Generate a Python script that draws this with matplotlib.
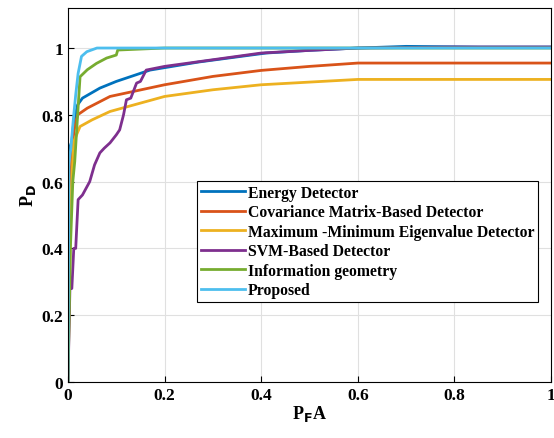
import matplotlib
matplotlib.use('Agg')
import matplotlib.pyplot as plt

# ROC curves
energy_x = [0, 0.003, 0.008, 0.012, 0.02, 0.03, 0.066, 0.1, 0.17, 0.27, 0.41, 0.5, 0.6, 0.7, 0.85, 1.0]
energy_y = [0.6, 0.7, 0.72, 0.78, 0.83, 0.85, 0.88, 0.9, 0.934, 0.958, 0.985, 0.993, 1.0, 1.005, 1.003, 1.003]

cov_x = [0, 0.005, 0.012, 0.02, 0.04, 0.087, 0.2, 0.3, 0.4, 0.5, 0.6, 0.8, 1.0]
cov_y = [0.0, 0.6, 0.75, 0.8, 0.82, 0.855, 0.89, 0.915, 0.933, 0.945, 0.955, 0.955, 0.955]

maxmin_x = [0, 0.006, 0.012, 0.025, 0.05, 0.087, 0.2, 0.3, 0.4, 0.5, 0.6, 0.8, 1.0]
maxmin_y = [0.0, 0.55, 0.72, 0.765, 0.785, 0.81, 0.855, 0.875, 0.89, 0.898, 0.906, 0.906, 0.906]

svm_x = [0, 0.004, 0.008, 0.012, 0.016, 0.021, 0.03, 0.045, 0.055, 0.066, 0.075, 0.087, 0.1, 0.107, 0.115, 0.121, 0.13, 0.142, 0.15, 0.162, 0.2, 0.3, 0.4, 0.5, 0.6, 0.8, 1.0]
svm_y = [0.0, 0.28, 0.28, 0.4, 0.4, 0.546, 0.56, 0.6, 0.65, 0.686, 0.7, 0.716, 0.74, 0.755, 0.8, 0.845, 0.85, 0.895, 0.9, 0.934, 0.945, 0.965, 0.985, 0.993, 1.0, 1.003, 1.003]

info_x = [0, 0.005, 0.01, 0.014, 0.02, 0.025, 0.04, 0.059, 0.08, 0.1, 0.103, 0.2, 0.6, 1.0]
info_y = [0.0, 0.4, 0.6, 0.66, 0.8, 0.914, 0.935, 0.954, 0.97, 0.979, 0.994, 1.0, 1.0, 1.0]

prop_x = [0, 0.002, 0.006, 0.011, 0.016, 0.021, 0.028, 0.039, 0.06, 0.2, 0.6, 1.0]
prop_y = [0.0, 0.657, 0.7, 0.785, 0.86, 0.924, 0.975, 0.989, 1.0, 1.0, 1.0, 1.0]

labels = ['Energy Detector', 'Covariance Matrix-Based Detector',
          'Maximum -Minimum Eigenvalue Detector', 'SVM-Based Detector',
          'Information geometry', 'Proposed']
colors = ['#0072BD', '#D95319', '#EDB120', '#7E2F8E', '#77AC30', '#4DBEEE']

plt.rcParams['font.family'] = ['Liberation Serif', 'DejaVu Serif']
plt.rcParams['font.weight'] = 'bold'

fig = plt.figure(figsize=(5.54, 4.39), dpi=100)
ax = fig.add_axes([0.1227, 0.1276, 0.872, 0.852])

series = [(energy_x, energy_y), (cov_x, cov_y), (maxmin_x, maxmin_y),
          (svm_x, svm_y), (info_x, info_y), (prop_x, prop_y)]
for (x, y), lab, c in zip(series, labels, colors):
    ax.plot(x, y, color=c, lw=2, label=lab)

ax.set_xlim(0, 1)
ax.set_ylim(0, 1.12)
ax.set_xticks([0, 0.2, 0.4, 0.6, 0.8, 1])
ax.set_xticklabels(['0', '0.2', '0.4', '0.6', '0.8', '1'])
ax.set_yticks([0, 0.2, 0.4, 0.6, 0.8, 1])
ax.set_yticklabels(['0', '0.2', '0.4', '0.6', '0.8', '1'])
ax.tick_params(direction='in', labelsize=12.5, length=4, width=0.8)
for t in ax.get_xticklabels() + ax.get_yticklabels():
    t.set_fontweight('bold')
ax.grid(True, color='#e0e0e0', lw=0.8)
ax.set_axisbelow(True)
for s in ax.spines.values():
    s.set_linewidth(0.8)

ax.set_xlabel(r'P$_\mathbf{F}$A', fontsize=13, fontweight='bold', labelpad=0)
ax.set_ylabel(r'P$_\mathbf{D}$', fontsize=13, fontweight='bold', labelpad=2)

leg = ax.legend(loc='lower right', bbox_to_anchor=(0.973, 0.214), borderaxespad=0,
                prop={'weight': 'bold', 'size': 11.3}, handlelength=2.8,
                handletextpad=0.15, labelspacing=0.22, borderpad=0.25,
                fancybox=False, framealpha=1, edgecolor='black')
leg.get_frame().set_linewidth(0.8)

fig.savefig('out.png', dpi=100)
